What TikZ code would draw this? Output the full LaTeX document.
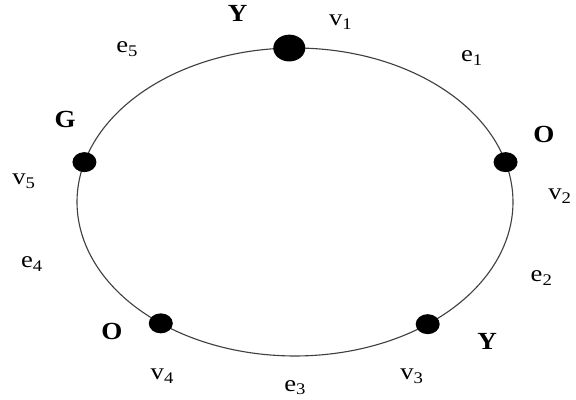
\documentclass[tikz,border=0pt]{standalone}
\usepackage{fontspec}
\setmainfont{Liberation Serif}
\usepackage{tikz}
\usetikzlibrary{shapes.geometric,backgrounds}

\tikzset{
  vdot/.style={ellipse, fill=black, inner sep=0pt, minimum width=0.6cm, minimum height=0.5cm},
  bigdot/.style={vdot, minimum width=0.8cm, minimum height=0.67cm},
  cyc/.style={line width=0.8pt, black!75},
  lbl/.style={anchor=base west, inner sep=0pt, xscale=1.15, transform shape, font=\fontsize{16.5}{19}\selectfont},
  clr/.style={anchor=base, inner sep=0pt, xscale=1.1, transform shape, font=\bfseries\fontsize{17.5}{20}\selectfont}
}

\begin{document}
\begin{tikzpicture}
  \useasboundingbox (0,0) rectangle (14.4,10);
  \coordinate (o) at (7.375,4.95);

  % Vertices
  \node[bigdot] (v1) at ([shift={(91.5:5.45 and 3.85)}]o) {};
  \foreach \n/\t in {2/15, 3/-52.5, 4/232, 5/165}
    \node[vdot] (v\n) at ([shift={(\t:5.45 and 3.85)}]o) {};

  % Cycle
  \begin{scope}[on background layer]
    \foreach \a/\s/\e in {1/91.5/15, 2/15/-52.5, 3/-52.5/-128, 4/232/165, 5/165/91.5}
      \draw[cyc] (v\a.center) arc[start angle=\s, end angle=\e, x radius=5.45, y radius=3.85];
  \end{scope}

  % Colours
  \node[clr] (c1) at (5.94,9.45) {Y};
  \node[clr] (c2) at (13.6,6.43) {O};
  \node[clr] (c3) at (12.18,1.25) {Y};
  \node[clr] (c4) at (2.8,1.5) {O};
  \node[clr] (c5) at (1.63,6.8) {G};

  % Vertex names
  \node[lbl] (n1) at (8.22,9.35) {v\textsubscript{1}};
  \node[lbl] (n2) at (13.7,5.0) {v\textsubscript{2}};
  \node[lbl] (n3) at (10.0,0.5) {v\textsubscript{3}};
  \node[lbl] (n4) at (3.76,0.5) {v\textsubscript{4}};
  \node[lbl] (n5) at (0.3,5.38) {v\textsubscript{5}};

  % Edge names
  \node[lbl] (e1) at (11.52,8.45) {e\textsubscript{1}};
  \node[lbl] (e2) at (13.26,2.95) {e\textsubscript{2}};
  \node[lbl] (e3) at (7.1,0.22) {e\textsubscript{3}};
  \node[lbl] (e4) at (0.52,3.3) {e\textsubscript{4}};
  \node[lbl] (e5) at (2.9,8.68) {e\textsubscript{5}};
\end{tikzpicture}
\end{document}
